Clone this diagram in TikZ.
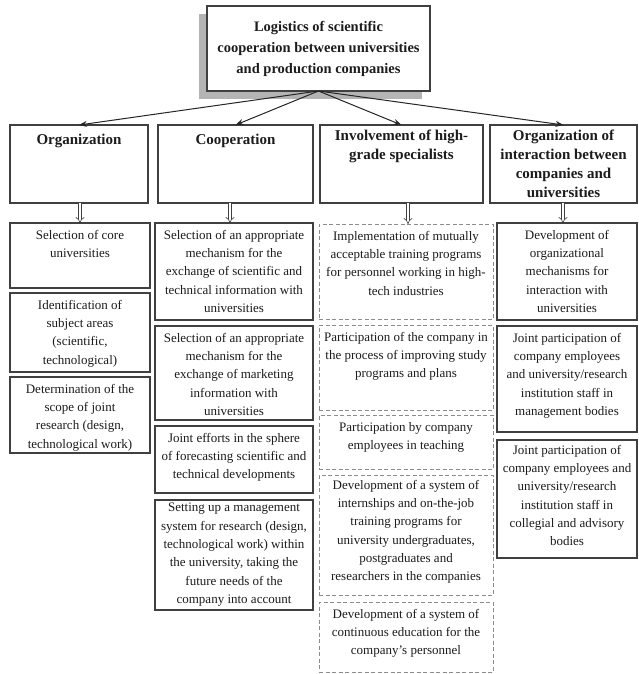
\documentclass[tikz,border=0pt]{standalone}
\usepackage{fontspec}
\setmainfont{Liberation Serif}
\usetikzlibrary{arrows.meta,calc}
\definecolor{ink}{HTML}{1C1C1C}
\definecolor{edgegray}{HTML}{404040}
\definecolor{dashgray}{HTML}{8C8C8C}
\definecolor{shadowgray}{HTML}{B4B4B4}
\tikzset{
  solidbox/.style={draw=edgegray, line width=1.1pt, fill=white, inner sep=0pt, outer sep=0pt},
  dashbox/.style={draw=dashgray, line width=0.8pt, dash pattern=on 4pt off 2.5pt, inner sep=0pt, outer sep=0pt},
  itemtext/.style={text=ink, font=\fontsize{13}{18.3}\selectfont, align=center, inner xsep=1pt, inner ysep=7pt},
  headtext/.style={text=ink, font=\bfseries\fontsize{15}{19}\selectfont, align=center, inner xsep=1pt, inner ysep=5pt},
  toparrow/.style={draw=black!85, line width=1pt, -{Stealth[length=8pt,width=6pt]}},
  dblarrow/.style={draw=edgegray, line width=0.6pt, double=white, double distance=2.6pt, -{Implies}}
}
% name, style, x, y, width, height, text-shift, text
\newcommand{\mkbox}[8]{%
  \node[#2, minimum width=#5pt, minimum height=#6pt, anchor=north west] (#1) at (#3,#4) {};
  \node[itemtext, anchor=north, yshift=-#7pt] (#1t) at (#1.north) {#8};}
\newcommand{\mkhead}[7]{%
  \node[solidbox, minimum width=#4pt, minimum height=#5pt, anchor=north west] (#1) at (#2,#3) {};
  \node[headtext, anchor=north, yshift=-#6pt] (#1t) at (#1.north) {#7};}
\begin{document}
\begin{tikzpicture}[x=1pt,y=-1pt]
\path[fill=white,use as bounding box] (0,0) rectangle (639,674);

% title
\node[fill=shadowgray, minimum width=223pt, minimum height=85pt, inner sep=0pt, outer sep=0pt] (tshadow) at (310.5,56.5) {};
\node[solidbox, minimum width=223pt, minimum height=85pt, text=ink, align=center,
      font=\bfseries\fontsize{14.5}{21}\selectfont] (title) at (318.5,48.5)
      {Logistics of scientific\\cooperation between universities\\and production companies};

% headers
\mkhead{h1}{10}{125}{138}{78}{4}{Organization}
\mkhead{h2}{158}{125}{155}{78}{4}{Cooperation}
\mkhead{h3}{320}{125}{163}{78}{0}{Involvement of high-\\grade specialists}
\mkhead{h4}{490}{125}{147}{78}{0}{Organization of\\interaction between\\companies and\\universities}

\draw[toparrow] (title.south) -- (h1.north);
\draw[toparrow] (title.south) -- (h2.north);
\draw[toparrow] (title.south) -- (h3.north);
\draw[toparrow] (title.south) -- (h4.north);

% column 1
\mkbox{a1}{solidbox}{10}{223}{140}{65}{0}{Selection of core\\universities}
\mkbox{a2}{solidbox}{10}{293}{140}{79}{0}{Identification of\\subject areas\\(scientific,\\technological)}
\mkbox{a3}{solidbox}{10}{377}{140}{76}{0}{Determination of the\\scope of joint\\research (design,\\technological work)}

% column 2
\mkbox{b1}{solidbox}{155}{223}{158}{97}{0}{Selection of an appropriate\\mechanism for the\\exchange of scientific and\\technical information with\\universities}
\mkbox{b2}{solidbox}{155}{326}{158}{94}{0}{Selection of an appropriate\\mechanism for the\\exchange of marketing\\information with\\universities}
\mkbox{b3}{solidbox}{155}{426}{158}{67}{0}{Joint efforts in the sphere\\of forecasting scientific and\\technical developments}
\mkbox{b4}{solidbox}{155}{500}{158}{110}{-4}{Setting up a management\\system for research (design,\\technological work) within\\the university, taking the\\future needs of the\\company into account}

% column 3
\mkbox{c1}{dashbox}{319}{224}{174}{95}{0}{Implementation of mutually\\acceptable training programs\\for personnel working in high-\\tech industries}
\mkbox{c2}{dashbox}{319}{325}{174}{85}{0}{Participation of the company in\\the process of improving study\\programs and plans}
\mkbox{c3}{dashbox}{319}{415}{174}{54}{0}{Participation by company\\employees in teaching}
\mkbox{c4}{dashbox}{319}{475}{174}{120}{-2}{Development of a system of\\internships and on-the-job\\training programs for\\university undergraduates,\\postgraduates and\\researchers in the companies}
\mkbox{c5}{dashbox}{319}{602}{174}{70}{0}{Development of a system of\\continuous education for the\\company’s personnel}

% column 4
\mkbox{d1}{solidbox}{497}{223}{140}{97}{0}{Development of\\organizational\\mechanisms for\\interaction with\\universities}
\mkbox{d2}{solidbox}{497}{326}{140}{106}{0}{Joint participation of\\company employees\\and university/research\\institution staff in\\management bodies}
\mkbox{d3}{solidbox}{497}{440}{140}{118}{-2}{Joint participation of\\company employees and\\university/research\\institution staff in\\collegial and advisory\\bodies}

% hollow arrows
\draw[dblarrow] ($(h1.south west)+(70,0)$) -- ($(a1.north west)+(70,0)$);
\draw[dblarrow] ($(h2.south west)+(72,0)$) -- ($(b1.north west)+(75,0)$);
\draw[dblarrow] ($(h3.south west)+(88,0)$) -- ($(c1.north west)+(89,0)$);
\draw[dblarrow] ($(h4.south west)+(73,0)$) -- ($(d1.north west)+(66,0)$);
\end{tikzpicture}
\end{document}
